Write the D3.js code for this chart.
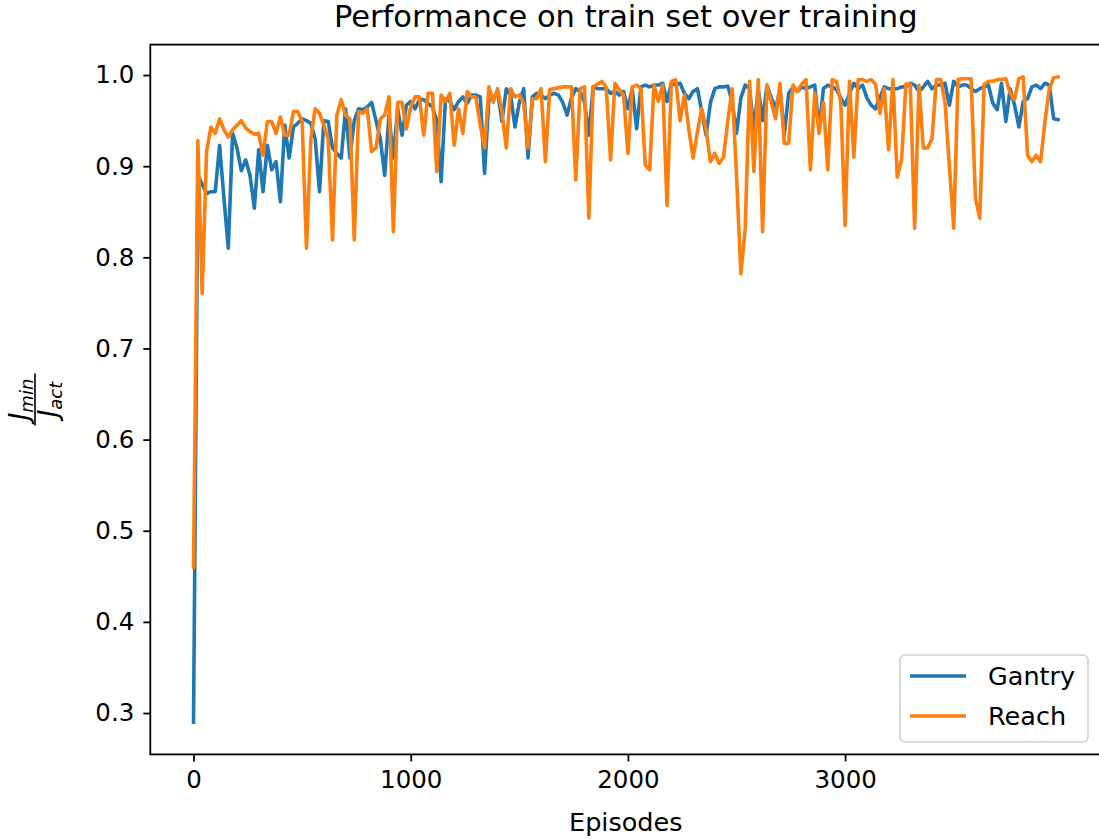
<!DOCTYPE html>
<html><head><meta charset="utf-8">
<script src="https://cdn.jsdelivr.net/npm/d3@7"></script>
<style>
html,body{margin:0;padding:0;background:#fff;}
svg{display:block;font-family:"DejaVu Sans",sans-serif;}
</style></head>
<body>
<svg id="chart" width="1099" height="839"></svg>
<script>
const title = "Performance on train set over training";
const xLabel = "Episodes";
const seriesNames = ["Gantry", "Reach"];
const seriesColors = ["#1f77b4", "#ff7f0e"];
const xTicks = [0, 1000, 2000, 3000];
const yTicks = [0.3, 0.4, 0.5, 0.6, 0.7, 0.8, 0.9, 1.0];
const episodeStep = 20;

const gantry = [
0.29,0.89,0.88,0.87,0.872,0.872,0.923,0.865,0.81,0.936,
0.92,0.895,0.907,0.89,0.854,0.918,0.872,0.923,0.896,0.905,
0.861,0.945,0.909,0.943,0.947,0.952,0.95,0.947,0.93,0.872,
0.95,0.949,0.92,0.914,0.909,0.963,0.909,0.95,0.963,0.962,
0.965,0.97,0.95,0.93,0.89,0.956,0.909,0.963,0.934,0.967,
0.971,0.963,0.973,0.973,0.969,0.965,0.95,0.883,0.974,0.971,
0.962,0.971,0.976,0.969,0.978,0.978,0.976,0.892,0.974,0.974,
0.982,0.949,0.985,0.978,0.943,0.97,0.985,0.909,0.976,0.98,
0.978,0.974,0.978,0.98,0.978,0.97,0.956,0.975,0.985,0.982,
0.97,0.934,0.987,0.985,0.985,0.985,0.98,0.982,0.978,0.982,
0.963,0.985,0.941,0.987,0.989,0.987,0.989,0.989,0.991,0.971,
0.991,0.989,0.991,0.98,0.974,0.982,0.985,0.96,0.934,0.97,
0.985,0.987,0.987,0.988,0.97,0.936,0.975,0.989,0.985,0.94,
0.985,0.95,0.989,0.975,0.963,0.985,0.935,0.98,0.987,0.982,
0.987,0.985,0.987,0.989,0.94,0.985,0.989,0.987,0.984,0.975,
0.967,0.98,0.991,0.985,0.989,0.975,0.967,0.963,0.975,0.987,
0.985,0.985,0.985,0.987,0.987,0.991,0.989,0.982,0.987,0.993,
0.985,0.989,0.989,0.991,0.967,0.993,0.987,0.989,0.989,0.985,
0.982,0.985,0.987,0.989,0.969,0.962,0.991,0.949,0.985,0.967,
0.943,0.971,0.974,0.987,0.989,0.985,0.991,0.989,0.952,0.951
];

const reach = [
0.46,0.928,0.76,0.916,0.943,0.936,0.952,0.94,0.932,0.94,
0.945,0.95,0.942,0.938,0.935,0.936,0.912,0.949,0.949,0.936,
0.954,0.934,0.934,0.96,0.96,0.949,0.81,0.93,0.963,0.958,
0.945,0.93,0.819,0.956,0.973,0.956,0.952,0.819,0.96,0.958,
0.963,0.916,0.92,0.952,0.956,0.976,0.828,0.97,0.97,0.941,
0.965,0.976,0.976,0.934,0.98,0.98,0.894,0.978,0.971,0.98,
0.923,0.963,0.936,0.982,0.976,0.976,0.945,0.92,0.987,0.97,
0.985,0.96,0.92,0.985,0.976,0.978,0.969,0.92,0.974,0.974,
0.985,0.905,0.984,0.985,0.986,0.987,0.987,0.987,0.885,0.985,
0.987,0.843,0.987,0.99,0.993,0.987,0.907,0.991,0.984,0.978,
0.914,0.987,0.989,0.985,0.901,0.896,0.989,0.971,0.989,0.857,
0.993,0.995,0.95,0.978,0.941,0.909,0.938,0.963,0.94,0.905,
0.914,0.903,0.91,0.95,0.985,0.89,0.782,0.832,0.993,0.894,
0.995,0.828,0.989,0.97,0.952,0.991,0.925,0.925,0.989,0.982,
0.99,0.995,0.896,0.98,0.936,0.97,0.896,0.995,0.993,0.97,
0.835,0.993,0.91,0.995,0.995,0.993,0.995,0.99,0.958,0.985,
0.918,0.995,0.888,0.907,0.99,0.99,0.832,0.989,0.92,0.92,
0.93,0.995,0.995,0.97,0.9,0.832,0.995,0.996,0.996,0.996,
0.865,0.843,0.99,0.993,0.993,0.995,0.995,0.996,0.98,0.973,
0.996,0.998,0.912,0.905,0.912,0.905,0.949,0.985,0.997,0.998
];

const episodes = gantry.map((_, i) => i * episodeStep);
const series = [gantry, reach];

const svg = d3.select("#chart");
const plot = {left: 150.3, right: 1101.2, top: 44.6, bottom: 754.4};

// matplotlib-style 5% margins
const xExt = d3.extent(episodes);
const xPad = (xExt[1] - xExt[0]) * 0.05;
const allY = gantry.concat(reach);
const yExt = d3.extent(allY);
const yPad = (yExt[1] - yExt[0]) * 0.05;

const x = d3.scaleLinear().domain([xExt[0] - xPad, xExt[1] + xPad]).range([plot.left, plot.right]);
const y = d3.scaleLinear().domain([yExt[0] - yPad, yExt[1] + yPad]).range([plot.bottom, plot.top]);

const fs = 24.5;
const fsLabel = 25.5;

// clip
svg.append("defs").append("clipPath").attr("id", "clip")
  .append("rect").attr("x", plot.left).attr("y", plot.top)
  .attr("width", plot.right - plot.left).attr("height", plot.bottom - plot.top);

// lines
const line = d3.line().x((d, i) => x(episodes[i])).y(d => y(d));
const lg = svg.append("g").attr("clip-path", "url(#clip)");
series.forEach((s, k) => {
  lg.append("path").datum(s).attr("d", line)
    .attr("fill", "none").attr("stroke", seriesColors[k])
    .attr("stroke-width", 3.6).attr("stroke-linejoin", "round").attr("stroke-linecap", "square");
});

// axes
const xAxis = d3.axisBottom(x).tickValues(xTicks).tickFormat(d3.format("d")).tickSize(7).tickPadding(9);
const yAxis = d3.axisLeft(y).tickValues(yTicks).tickFormat(d3.format(".1f")).tickSize(7).tickPadding(9);

const gx = svg.append("g").attr("transform", `translate(0,${plot.bottom})`).call(xAxis);
const gy = svg.append("g").attr("transform", `translate(${plot.left},0)`).call(yAxis);
[gx, gy].forEach(g => {
  g.select(".domain").remove();
  g.selectAll(".tick line").attr("stroke", "#000").attr("stroke-width", 1.8);
  g.selectAll(".tick text").attr("fill", "#000").style("font-size", fs + "px").style("font-family", "DejaVu Sans");
});

// spines
svg.append("rect").attr("x", plot.left).attr("y", plot.top)
  .attr("width", plot.right - plot.left).attr("height", plot.bottom - plot.top)
  .attr("fill", "none").attr("stroke", "#000").attr("stroke-width", 1.8);

// title
svg.append("text").attr("x", (plot.left + plot.right) / 2).attr("y", 27)
  .attr("text-anchor", "middle").style("font-size", "30.5px").attr("fill", "#000").text(title);

// x label
svg.append("text").attr("x", (plot.left + plot.right) / 2).attr("y", 831)
  .attr("text-anchor", "middle").style("font-size", fsLabel + "px").attr("fill", "#000").text(xLabel);

// y label: fraction J_min / J_act
const yl = svg.append("g").attr("transform", `translate(36,${(plot.top + plot.bottom) / 2}) rotate(-90)`);
const num = yl.append("text").attr("x", 0).attr("y", -8).attr("text-anchor", "middle")
  .style("font-size", "26px").style("font-style", "italic").attr("fill", "#000");
num.append("tspan").text("J");
num.append("tspan").attr("dy", 5).style("font-size", "18px").text("min");
const den = yl.append("text").attr("x", 0).attr("y", 21).attr("text-anchor", "middle")
  .style("font-size", "26px").style("font-style", "italic").attr("fill", "#000");
den.append("tspan").text("J");
den.append("tspan").attr("dy", 5).style("font-size", "18px").text("act");
yl.append("line").attr("x1", -26).attr("x2", 26).attr("y1", -1).attr("y2", -1)
  .attr("stroke", "#000").attr("stroke-width", 1.6);

// legend
const leg = svg.append("g");
leg.append("rect").attr("x", 900).attr("y", 655).attr("width", 188).attr("height", 87)
  .attr("rx", 5).attr("fill", "#fff").attr("fill-opacity", 0.8)
  .attr("stroke", "#d0d0d0").attr("stroke-width", 1.6);
seriesNames.forEach((n, k) => {
  const cy = 676 + k * 40;
  leg.append("line").attr("x1", 910).attr("x2", 966).attr("y1", cy).attr("y2", cy)
    .attr("stroke", seriesColors[k]).attr("stroke-width", 3.6);
  leg.append("text").attr("x", 988).attr("y", cy + 9).style("font-size", fsLabel + "px")
    .attr("fill", "#000").text(n);
});
</script>
</body></html>
